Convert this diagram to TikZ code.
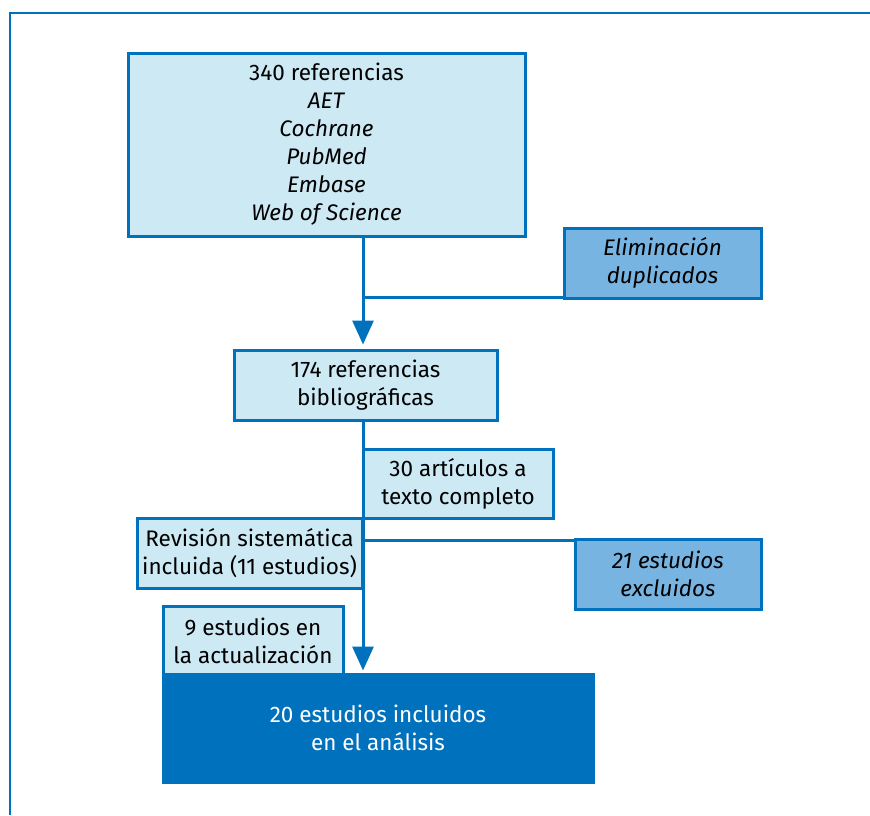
\documentclass[tikz,border=0pt]{standalone}
\usepackage{fontspec}
\setmainfont{Fira Sans}
\usetikzlibrary{arrows.meta}

\definecolor{azul}{HTML}{0071BC}
\definecolor{celeste}{HTML}{CDE9F4}
\definecolor{medio}{HTML}{78B4E2}

\begin{document}
\begin{tikzpicture}[x=1pt,y=-1pt,>={Triangle[width=21pt,length=24pt]},
    caja/.style={rectangle,draw=azul,line width=3pt,fill=celeste,inner sep=0pt,align=center,font=\fontsize{22.5}{28}\selectfont},
    excl/.style={caja,fill=medio,font=\fontsize{22.5}{28}\selectfont\itshape},
    flecha/.style={draw=azul,line width=3pt}]
\useasboundingbox (0,0) rectangle (870,815);
\draw[azul,line width=2pt] (870,13) -- (10,13) -- (10,815);
\node[caja,minimum width=397pt,minimum height=183pt] (refs) at (326.5,144.5) {340 referencias\\\textit{AET}\\\textit{Cochrane}\\\textit{PubMed}\\\textit{Embase}\\\textit{Web of Science}};
\node[excl,minimum width=197pt,minimum height=70pt] (dupl) at (662.5,263) {Eliminación\\duplicados};
\node[caja,minimum width=263pt,minimum height=70pt] (biblio) at (365.5,385) {174 referencias\\bibliográficas};
\node[caja,minimum width=190pt,minimum height=69pt] (texto) at (458,483.5) {30 artículos a\\texto completo};
\node[caja,minimum width=225pt,minimum height=70pt] (revis) at (249.5,553) {Revisión sistemática\\incluida (11 estudios)};
\node[excl,minimum width=186pt,minimum height=70pt] (fuera) at (668,574) {21 estudios\\excluidos};
\node[caja,minimum width=180pt,minimum height=70pt] (actual) at (253,641) {9 estudios en\\la actualización};
\node[caja,fill=azul,text=white,minimum width=430pt,minimum height=108pt] (final) at (378,728) {20 estudios incluidos\\en el análisis};
\coordinate (j1) at (363,297);
\coordinate (j2) at (363,540);
\draw[flecha,->,shorten >=4pt] (refs.south -| j1) -- (biblio.north -| j1);
\draw[flecha] (j1) -- (j1 -| dupl.west);
\draw[flecha,->,shorten >=2pt] (biblio.south -| j2) -- (final.north -| j2);
\draw[flecha] (j2) -- (j2 -| fuera.west);
\end{tikzpicture}
\end{document}
